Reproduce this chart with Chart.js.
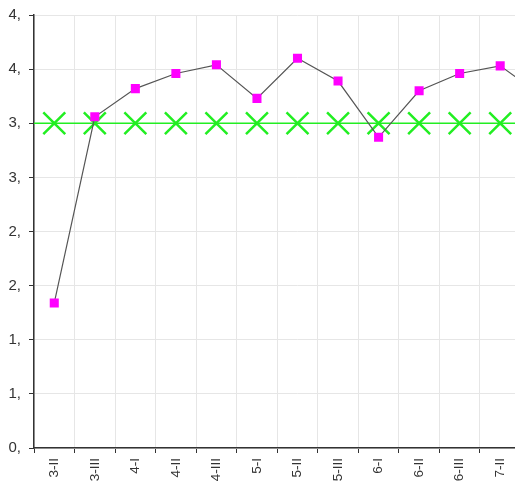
<!DOCTYPE html>
<html>
<head>
<meta charset="utf-8">
<script src="https://cdn.jsdelivr.net/npm/chart.js@4"></script>
<style>
  html, body { margin: 0; padding: 0; background: #fff; overflow: hidden; width: 515px; height: 482px; }
  #c { position: absolute; left: 0; top: 0; }
</style>
</head>
<body>
<canvas id="c" width="561" height="482" style="width:561px;height:482px"></canvas>
<script>
const categories = ["3-II", "3-III", "4-I", "4-II", "4-III", "5-I", "5-II", "5-III", "6-I", "6-II", "6-III", "7-II", "7-III"];
const seriesValues = [1.84, 3.56, 3.82, 3.96, 4.04, 3.73, 4.10, 3.89, 3.37, 3.80, 3.96, 4.03, 3.76];
const targetValues = [3.5, 3.5, 3.5, 3.5, 3.5, 3.5, 3.5, 3.5, 3.5, 3.5, 3.5, 3.5, 3.5];
const targetLine = 3.5;
const yTickValues = [0.5, 1.0, 1.5, 2.0, 2.5, 3.0, 3.5, 4.0, 4.5];
const yTickLabels = ["0,", "1,", "1,", "2,", "2,", "3,", "3,", "4,", "4,"];

const yFont = { family: "'Liberation Sans', Arial, sans-serif", size: 15 };
const xFont = { family: "'Liberation Sans', Arial, sans-serif", size: 13.5 };

new Chart(document.getElementById('c'), {
  type: 'line',
  data: {
    labels: categories,
    datasets: [
      {
        data: seriesValues,
        borderColor: '#555555',
        borderWidth: 1.2,
        pointStyle: 'rect',
        pointRadius: 6.4,
        pointBackgroundColor: '#ff00ff',
        pointBorderColor: '#ff00ff',
        pointBorderWidth: 0,
        tension: 0,
        order: 0
      },
      {
        data: targetValues,
        showLine: false,
        pointStyle: 'crossRot',
        pointRadius: 15.5,
        pointBorderColor: '#22ee22',
        pointBorderWidth: 2.5,
        order: 1
      },
      {
        xAxisID: 'x2',
        data: [{ x: 0, y: targetLine }, { x: 1, y: targetLine }],
        borderColor: '#22ee22',
        borderWidth: 1.5,
        pointRadius: 0,
        order: 2
      }
    ]
  },
  options: {
    responsive: false,
    animation: false,
    devicePixelRatio: 1,
    layout: { autoPadding: false, padding: { top: 15, right: 0, left: 0, bottom: 0 } },
    plugins: { legend: { display: false }, tooltip: { enabled: false } },
    scales: {
      x: {
        type: 'category',
        offset: true,
        grid: { offset: true, color: '#e6e6e6', lineWidth: 1, tickColor: '#333', tickLength: 5, drawOnChartArea: true },
        border: { color: '#333', width: 1.5 },
        ticks: { color: '#333', font: xFont, minRotation: 90, maxRotation: 90, padding: 5, autoSkip: false },
        afterFit: s => { s.height = 34; s.paddingLeft = 0; s.paddingRight = 0; }
      },
      x2: {
        type: 'linear',
        display: false,
        min: 0,
        max: 1
      },
      y: {
        min: 0.5,
        max: 4.5,
        afterBuildTicks: s => { s.ticks = yTickValues.map(v => ({ value: v })); },
        grid: { color: '#e6e6e6', lineWidth: 1, tickColor: '#333', tickLength: 5 },
        border: { color: '#333', width: 1.5 },
        ticks: {
          color: '#333',
          font: yFont,
          padding: 8,
          callback: (v, i) => yTickLabels[i]
        },
        afterFit: s => { s.width = 34; s.paddingTop = 0; s.paddingBottom = 0; }
      }
    }
  }
});
</script>
</body>
</html>
